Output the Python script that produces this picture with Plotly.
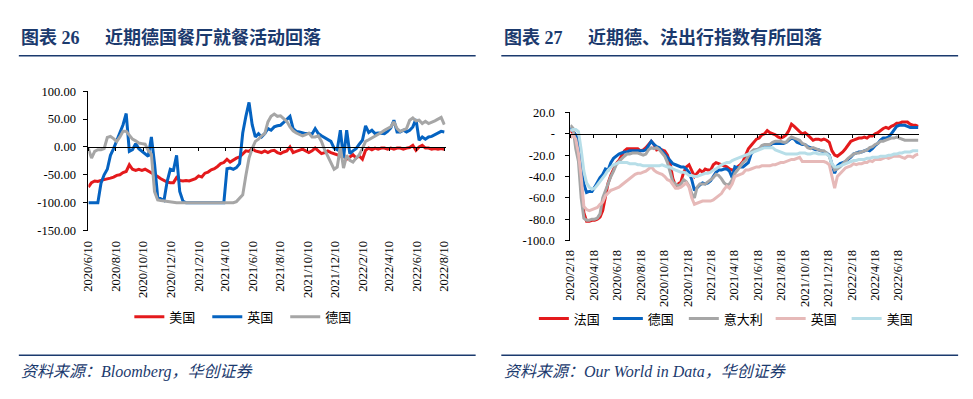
import pandas as pd
import plotly.graph_objects as go

# ---------------- Data: left chart (weekly, from 2020-06-10) ----------------
LEFT_START = "2020-06-10"
us_left = [-72, -64, -61, -62, -60, -59, -57, -56, -54, -51,
           -50, -46, -44, -32, -40, -42, -40, -42, -40, -43,
           -47, -50, -53, -57, -60, -63, -64, -64, -55, -60,
           -61, -60, -61, -59, -57, -52, -54, -47, -45, -41,
           -39, -35, -30, -28, -22, -27, -23, -20, -18, -13,
           -7, -8, -3, -7, -8, -10, -7, -10, -7, -6,
           -10, -12, -9, -7, 0, -10, -8, -6, -4, -7,
           -10, -7, -2, -7, -12, -10, -7, -10, -12, -13,
           -16, -14, -22, -18, -14, -20, -16, -22, -6, -2,
           -5, -2, -4, -2, -2, -4, -2, -4, -2, -2,
           -4, -2, -1, 3, -6, 0, 3, -2, -2, -4,
           -3, -4, -3, -4]
uk_left = [-100, -100, -100, -100, -65, -50, -40, -15, -3, 12,
           28, 40, 60, -8, -5, 6, -3, -8, -12, -17,
           18, -30, -90, -93, -96, -62, -40, -42, -15, -80,
           -97, -100, -100, -100, -100, -100, -100, -100, -100, -100,
           -100, -100, -100, -100, -39, -38, -40, -37, -30, 25,
           55, 80, 40, 18, 24, 18, 24, 33, 30, 36,
           38, 39, 44, 50, 55, 33, 28, 27, 25, 24,
           24, 23, 33, 24, 20, 17, 13, 10, -2, -5,
           30, -20, 30, -12, -7, -3, 5, 12, 38, 26,
           30, 24, 25, 24, 24, 28, 34, 48, 27, 27,
           30, 27, 30, 36, 50, 12, 18, 14, 18, 19,
           22, 26, 28, 27]
de_left = [-3, -20, -8, -5, -5, -3, 17, 19, 15, 10,
           18, 28, 28, 20, 14, 11, 7, 6, 5, -6,
           -13, -80, -95, -96, -97, -98, -98, -100, -100, -100,
           -100, -100, -100, -100, -100, -100, -100, -100, -100, -100,
           -100, -100, -100, -100, -100, -100, -100, -98, -92, -86,
           -51, -20, -3, 10, 14, 20, 24, 45, 55, 59,
           55, 56, 51, 46, 36, 29, 25, 22, 20, 22,
           25, 18, 18, 20, 10, -5, -17, -30, -40, -36,
           0, -38, -15, -24, -27, -20, -14, -3, 10, 13,
           16, 20, 22, 26, 30, 33, 36, 45, 33, 28,
           30, 33, 48, 52, 47, 48, 42, 46, 42, 44,
           47, 50, 53, 40]
left_ticklabels = ["2020/6/10", "2020/8/10", "2020/10/10", "2020/12/10", "2021/2/10",
                   "2021/4/10", "2021/6/10", "2021/8/10", "2021/10/10", "2021/12/10",
                   "2022/2/10", "2022/4/10", "2022/6/10", "2022/8/10"]
left_yticks = [-150, -100, -50, 0, 50, 100]
left_ytext = ["-150.00", "-100.00", "-50.00", "0.00", "50.00", "100.00"]

# ---------------- Data: right chart (weekly, from 2020-02-18) ----------------
RIGHT_START = "2020-02-18"
fr = [3, 1, -2, -12, -48, -74, -82, -82, -81, -81,
      -80, -78, -72, -57, -46, -39, -34, -28, -25, -20,
      -16, -14, -14, -14, -14, -14, -16, -15, -13, -10,
      -7, -10, -15, -14, -15, -16, -20, -28, -42, -49,
      -47, -45, -36, -31, -29, -35, -40, -37, -34, -36,
      -33, -34, -34, -29, -27, -28, -29, -30, -31, -33,
      -34, -33, -31, -29, -26, -19, -14, -11, -8, -5,
      -4, -1, 0, 3, 1, 0, -1, -3, -4, -3,
      -1, 3, 9, 7, 4, 2, 0, 1, -1, -4,
      -6, -5, -5, -6, -5, -6, -8, -16, -20, -21,
      -19, -17, -14, -11, -7, -6, -5, -4, -4, -3,
      -4, -2, -2, 0, 1, 3, 5, 6, 5, 7,
      8, 10, 10, 11, 11, 11, 9, 8, 8, 7]
de = [6, 3, -1, -10, -33, -47, -55, -54, -54, -50,
      -45, -41, -38, -33, -34, -27, -23, -21, -19, -18,
      -17, -17, -16, -16, -16, -16, -16, -16, -15, -11,
      -7, -10, -12, -13, -16, -18, -21, -25, -28, -29,
      -30, -31, -31, -33, -36, -43, -53, -50, -48, -46,
      -47, -46, -44, -40, -36, -34, -34, -33, -33, -35,
      -41, -31, -32, -31, -31, -29, -27, -19, -16, -15,
      -14, -13, -12, -12, -11, -9, -9, -9, -9, -9,
      -8, -6, -4, -5, -8, -9, -10, -10, -12, -13,
      -14, -15, -15, -16, -17, -18, -20, -28, -37, -30,
      -28, -27, -26, -24, -22, -19, -18, -17, -17, -16,
      -15, -16, -14, -11, -9, -6, -4, -4, -3, 0,
      4, 7, 8, 8, 8, 7, 6, 6, 6, 6]
it = [8, 5, -14, -26, -60, -79, -81, -81, -80, -80,
      -79, -75, -60, -53, -47, -40, -35, -29, -26, -23,
      -21, -19, -19, -18, -18, -18, -19, -20, -19, -15,
      -13, -14, -13, -15, -18, -21, -27, -36, -45, -47,
      -49, -47, -43, -45, -49, -56, -60, -50, -47, -47,
      -47, -45, -43, -41, -38, -39, -42, -46, -48, -47,
      -43, -37, -34, -30, -27, -25, -21, -17, -15, -15,
      -14, -11, -10, -10, -10, -8, -7, -7, -7, -8,
      -8, -5, -3, -4, -5, -6, -9, -10, -13, -14,
      -13, -14, -15, -16, -16, -18, -21, -29, -34, -33,
      -31, -28, -26, -23, -21, -19, -18, -18, -17, -16,
      -15, -13, -12, -10, -9, -7, -7, -6, -5, -4,
      -4, -3, -4, -5, -6, -6, -6, -6, -6, -6]
uk = [-4, -1, -5, -18, -40, -68, -71, -72, -71, -70,
      -69, -66, -64, -58, -55, -53, -52, -51, -50, -48,
      -46, -44, -42, -40, -38, -37, -37, -36, -35, -33,
      -31, -34, -36, -37, -38, -40, -43, -44, -48, -51,
      -51, -50, -48, -46, -50, -60, -66, -65, -64, -63,
      -63, -63, -63, -62, -60, -58, -56, -52, -49, -51,
      -47, -40, -39, -38, -37, -34, -34, -33, -32, -31,
      -31, -30, -30, -30, -30, -29, -29, -28, -27, -27,
      -26, -25, -24, -24, -23, -22, -26, -26, -26, -26,
      -26, -26, -26, -26, -26, -27, -29, -40, -51, -40,
      -37, -34, -32, -31, -30, -28, -29, -28, -28, -27,
      -27, -25, -26, -24, -24, -24, -23, -22, -23, -22,
      -21, -21, -21, -22, -23, -21, -21, -22, -20, -19]
us = [3, 4, 4, 2, -15, -35, -46, -50, -52, -51,
      -48, -45, -41, -38, -34, -31, -29, -28, -27, -27,
      -27, -27, -28, -28, -28, -29, -29, -30, -30, -30,
      -30, -30, -30, -30, -29, -30, -31, -31, -33, -34,
      -35, -36, -36, -37, -39, -39, -40, -40, -39, -38,
      -37, -37, -36, -34, -33, -31, -29, -28, -27, -27,
      -25, -24, -23, -22, -21, -20, -19, -18, -17, -16,
      -15, -14, -13, -13, -13, -13, -15, -16, -17, -18,
      -19, -19, -19, -19, -19, -18, -18, -18, -19, -19,
      -18, -18, -19, -19, -19, -19, -21, -28, -31, -31,
      -30, -29, -28, -27, -26, -25, -25, -24, -24, -24,
      -23, -23, -22, -22, -22, -21, -21, -21, -20, -20,
      -19, -19, -18, -18, -17, -17, -17, -16, -16, -16]
right_ticklabels = ["2020/2/18", "2020/4/18", "2020/6/18", "2020/8/18", "2020/10/18",
                    "2020/12/18", "2021/2/18", "2021/4/18", "2021/6/18", "2021/8/18",
                    "2021/10/18", "2021/12/18", "2022/2/18", "2022/4/18", "2022/6/18"]
right_yticks = [-100, -80, -60, -40, -20, 0, 20]
right_ytext = ["-100.0", "-80.0", "-60.0", "-40.0", "-20.0", "-", "20.0"]

# ---------------- Styling ----------------
W, H = 973, 399
RED, BLUE, GRAY, PINK, LBLUE = "#E41A1C", "#0563C1", "#A6A6A6", "#E6B9B8", "#B7DEE8"
NAVY = "#1B3A6E"
SERIF = "Liberation Serif, Times New Roman, serif"
CJK = "Noto Sans CJK SC, sans-serif"
TITLE_FONT = "Liberation Serif, Noto Sans CJK SC, serif"


def px(x):
    return x / W


def py(y):
    return 1 - y / H


left_dates = pd.date_range(LEFT_START, periods=len(us_left), freq="7D")
right_dates = pd.date_range(RIGHT_START, periods=len(fr), freq="7D")
left_tickvals = [pd.to_datetime(t, format="%Y/%m/%d") for t in left_ticklabels]
right_tickvals = [pd.to_datetime(t, format="%Y/%m/%d") for t in right_ticklabels]

LEFT_XR = ["2020-06-10", "2022-08-13"]
RIGHT_XR = ["2020-02-18", "2022-08-10"]
LEFT_YR = [-150, 100]
RIGHT_YR = [-100, 20]
LX = [px(82.5), px(444.6)]
LY = [py(231.7), py(87.3)]
RX = [px(571), px(924)]
RY = [py(242), py(109.3)]

fig = go.Figure()
LW = 3
left_series = [("美国", us_left, RED, "legend", 134), ("英国", uk_left, BLUE, "legend2", 213),
               ("德国", de_left, GRAY, "legend3", 292)]
right_series = [("法国", fr, RED, "legend4", 544), ("德国", de, BLUE, "legend5", 619),
                ("意大利", it, GRAY, "legend6", 696), ("英国", uk, PINK, "legend7", 784),
                ("美国", us, LBLUE, "legend8", 861)]
for name, vals, col, lg, _ in left_series:
    fig.add_trace(go.Scatter(x=left_dates, y=vals, name=name, mode="lines",
                             line=dict(color=col, width=LW), xaxis="x", yaxis="y", legend=lg))
for name, vals, col, lg, _ in right_series:
    fig.add_trace(go.Scatter(x=right_dates, y=vals, name=name, mode="lines",
                             line=dict(color=col, width=LW), xaxis="x2", yaxis="y2", legend=lg))
# empty traces so the zero-line tick axes are drawn
fig.add_trace(go.Scatter(x=[], y=[], xaxis="x3", yaxis="y", showlegend=False, hoverinfo="skip"))
fig.add_trace(go.Scatter(x=[], y=[], xaxis="x4", yaxis="y2", showlegend=False, hoverinfo="skip"))


def zero_pos(dom, rng):
    return dom[0] + (0 - rng[0]) / (rng[1] - rng[0]) * (dom[1] - dom[0])


tickfont = dict(family=SERIF, size=12.5, color="black")
common_x = dict(showgrid=False, zeroline=False, showline=False, ticks="", tickangle=-90,
                tickfont=tickfont, type="date")
common_y = dict(showgrid=False, zeroline=False, showline=True, linecolor="black", linewidth=1,
                ticks="outside", ticklen=4, tickcolor="black", tickfont=tickfont)
zero_axis = dict(showgrid=False, zeroline=False, showline=True, linecolor="black", linewidth=1,
                 ticks="outside", ticklen=3, tickcolor="black", showticklabels=False,
                 anchor="free", type="date")

layout = dict(
    width=W, height=H, margin=dict(l=0, r=0, t=0, b=0),
    paper_bgcolor="white", plot_bgcolor="white", showlegend=True,
    xaxis=dict(domain=LX, range=LEFT_XR, anchor="y", tickvals=left_tickvals,
               ticktext=left_ticklabels, ticklabelstandoff=7, **common_x),
    yaxis=dict(domain=LY, range=LEFT_YR, anchor="x", tickvals=left_yticks,
               ticktext=left_ytext, ticklabelstandoff=5, **common_y),
    xaxis2=dict(domain=RX, range=RIGHT_XR, anchor="y2", tickvals=right_tickvals,
                ticktext=right_ticklabels, ticklabelstandoff=6, **common_x),
    yaxis2=dict(domain=RY, range=RIGHT_YR, anchor="x2", tickvals=right_yticks,
                ticktext=right_ytext, ticklabelstandoff=8, **common_y),
    xaxis3=dict(overlaying="x", range=LEFT_XR, tickvals=left_tickvals,
                position=zero_pos(LY, LEFT_YR), **zero_axis),
    xaxis4=dict(overlaying="x2", range=RIGHT_XR, tickvals=right_tickvals,
                position=zero_pos(RY, RIGHT_YR), **zero_axis),
)
# one small legend per series, placed where each reference legend entry sits
for name, vals, col, lg, xs in left_series + right_series:
    ly = 321 if lg in ("legend", "legend2", "legend3") else 323
    layout[lg] = dict(orientation="h", x=px(xs - 10), y=py(ly), xanchor="left", yanchor="middle",
                      font=dict(family=CJK, size=13, color="black"), bgcolor="rgba(0,0,0,0)",
                      borderwidth=0)
fig.update_layout(**layout)

# Titles
title_font = dict(family=TITLE_FONT, size=18, color=NAVY)
for txt, x in [("<b>图表 26</b>", 12), ("<b>近期德国餐厅就餐活动回落</b>", 97),
               ("<b>图表 27</b>", 502), ("<b>近期德、法出行指数有所回落</b>", 587)]:
    fig.add_annotation(text=txt, x=px(x), y=py(32), xref="paper", yref="paper",
                       xanchor="left", yanchor="middle", showarrow=False, font=title_font)

# Sources
src_font = dict(family="Liberation Serif, Noto Sans CJK SC, serif", size=16, color=NAVY)
for txt, x in [("<i>资料来源：Bloomberg，华创证券</i>", 12),
               ("<i>资料来源：Our World in Data，华创证券</i>", 502)]:
    fig.add_annotation(text=txt, x=px(x), y=py(378), xref="paper", yref="paper",
                       xanchor="left", yanchor="middle", showarrow=False, font=src_font)

# Rules under titles and above sources
for x0, x1 in [(12, 475), (501, 964)]:
    for yy in (50.5, 361):
        fig.add_shape(type="line", xref="paper", yref="paper", x0=px(x0), x1=px(x1),
                      y0=py(yy), y1=py(yy), line=dict(color=NAVY, width=1.5))

fig.write_html("out.html", config={"displayModeBar": False},
               post_script="document.body.style.margin='0px';")
